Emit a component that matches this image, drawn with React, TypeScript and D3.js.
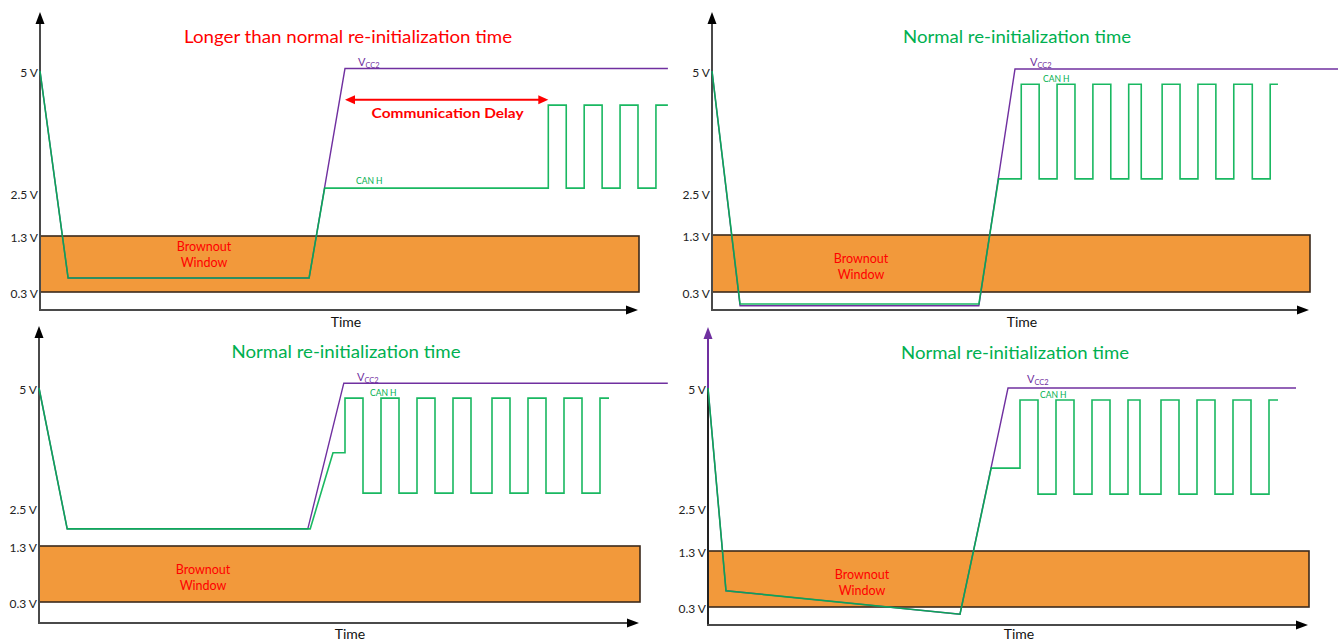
import React from 'react';
import * as d3 from 'd3';

// Schematic voltage breakpoints (axis is not to scale) and tick labels
const voltBreaks = [0, 0.3, 1.3, 2.5, 5];
const tickValues = [5, 2.5, 1.3, 0.3];
const tickLabels = ['5 V', '2.5 V', '1.3 V', '0.3 V'];
const brownoutRange = [0.3, 1.3];

// Panel 1: longer than normal re-initialization
const p1VccT = [0, 4.7, 45.0, 51.0, 105.0];
const p1VccV = [5.0, 0.55, 0.55, 5.05, 5.05];
const p1CanT = [0, 4.7, 45.0, 47.6, 85.0];
const p1CanV = [5.0, 0.55, 0.55, 2.6, 2.6];
const p1WaveEdges = [85.0, 88.0, 91.0, 94.0, 97.0, 100.0, 103.0, 105.0];
const p1WaveLevels = [2.6, 4.3];
const p1DelayT = [51.0, 85.0];
const p1DelayV = 4.41;

// Panel 2: normal (top right)
const p2VccT = [0, 4.7, 44.7, 50.75, 104.9];
const p2VccV = [5.0, 0.07, 0.07, 5.04, 5.04];
const p2CanT = [0, 4.7, 44.7, 48.0, 51.8];
const p2CanV = [5.0, 0.1, 0.1, 2.79, 2.79];
const p2WaveEdges = [51.8, 54.8, 57.8, 60.8, 63.8, 66.8, 69.8, 71.9, 75.4, 78.4, 81.4, 84.4, 87.4, 90.5, 93.5, 94.8];
const p2WaveLevels = [2.79, 4.73];

// Panel 3: normal (bottom left)
const p3VccT = [0, 4.7, 44.8, 50.8, 104.8];
const p3VccV = [5.0, 1.84, 1.84, 5.1, 5.1];
const p3CanT = [0, 4.7, 45.2, 49.0, 51.0];
const p3CanV = [5.0, 1.84, 1.84, 3.65, 3.65];
const p3WaveEdges = [51.0, 54.0, 57.0, 60.0, 63.0, 66.0, 69.0, 72.0, 75.5, 78.5, 81.5, 84.5, 87.5, 90.5, 93.5, 95.0];
const p3WaveLevels = [2.81, 4.79];

// Panel 4: normal (bottom right)
const p4VccT = [0, 3.0, 42.0, 50.0, 98.0];
const p4VccV = [5.0, 0.59, 0.18, 5.0, 5.0];
const p4CanT = [0, 3.0, 42.0, 47.2, 52.0];
const p4CanV = [5.0, 0.59, 0.18, 3.33, 3.33];
const p4WaveEdges = [52.0, 55.0, 58.0, 61.0, 64.0, 67.0, 70.0, 72.0, 75.5, 78.5, 81.5, 84.5, 87.5, 90.5, 93.5, 95.0];
const p4WaveLevels = [2.79, 4.75];

const titleLong = 'Longer than normal re-initialization time';
const titleNormal = 'Normal re-initialization time';

const RED = '#ff0000';
const GREEN = '#00b050';
const PURPLE = '#7030a0';
const ORANGE = '#f2993b';
const AXIS = '#4a4a4a';
const FONT = 'Lato, "Open Sans", sans-serif';

type Panel = {
  x0: number; x1: number; yRange: number[]; top: number;
  vccT: number[]; vccV: number[]; canT: number[]; canV: number[];
  waveEdges: number[]; waveLevels: number[];
  title: string; titleColor: string; titleX: number; titleY: number; titleW: number;
  vccLabelX: number; vccLabelY: number; canLabelX: number; canLabelY: number;
  boX: number; boY: number; timeX: number; timeY: number;
  purpleTop?: boolean; delay?: boolean;
};

const panels: Panel[] = [
  {
    x0: 40, x1: 638, yRange: [310, 292, 236, 193, 71], top: 12,
    vccT: p1VccT, vccV: p1VccV, canT: p1CanT, canV: p1CanV,
    waveEdges: p1WaveEdges, waveLevels: p1WaveLevels,
    title: titleLong, titleColor: RED, titleX: 348, titleY: 43, titleW: 328,
    vccLabelX: 358, vccLabelY: 66, canLabelX: 356, canLabelY: 184,
    boX: 204, boY: 247, timeX: 346, timeY: 327, delay: true,
  },
  {
    x0: 712, x1: 1309, yRange: [310, 292, 235, 193, 71], top: 12,
    vccT: p2VccT, vccV: p2VccV, canT: p2CanT, canV: p2CanV,
    waveEdges: p2WaveEdges, waveLevels: p2WaveLevels,
    title: titleNormal, titleColor: GREEN, titleX: 1017, titleY: 43, titleW: 228,
    vccLabelX: 1030, vccLabelY: 66, canLabelX: 1043, canLabelY: 82,
    boX: 861, boY: 259, timeX: 1022, timeY: 327,
  },
  {
    x0: 39, x1: 639, yRange: [623, 602, 546, 508, 388], top: 326,
    vccT: p3VccT, vccV: p3VccV, canT: p3CanT, canV: p3CanV,
    waveEdges: p3WaveEdges, waveLevels: p3WaveLevels,
    title: titleNormal, titleColor: GREEN, titleX: 346, titleY: 358, titleW: 229,
    vccLabelX: 357, vccLabelY: 381, canLabelX: 370, canLabelY: 396,
    boX: 203, boY: 570, timeX: 350, timeY: 639,
  },
  {
    x0: 708, x1: 1308, yRange: [625, 607, 551, 508, 388], top: 327,
    vccT: p4VccT, vccV: p4VccV, canT: p4CanT, canV: p4CanV,
    waveEdges: p4WaveEdges, waveLevels: p4WaveLevels,
    title: titleNormal, titleColor: GREEN, titleX: 1015, titleY: 359, titleW: 228,
    vccLabelX: 1027, vccLabelY: 383, canLabelX: 1040, canLabelY: 398,
    boX: 862, boY: 575, timeX: 1019, timeY: 639, purpleTop: true,
  },
];

// Square wave after the CAN H ramp: first edge goes to the high level, then toggles
function wavePoints(edges: number[], levels: number[]): [number, number][] {
  const pts: [number, number][] = [];
  let lvl = 0;
  for (let i = 0; i < edges.length - 1; i++) {
    lvl = 1 - lvl;
    pts.push([edges[i], levels[lvl]]);
    pts.push([edges[i + 1], levels[lvl]]);
  }
  return pts;
}

function PanelView({ p }: { p: Panel }) {
  const x = d3.scaleLinear().domain([0, 100]).range([p.x0, p.x1]);
  const y = d3.scaleLinear().domain(voltBreaks).range(p.yRange);
  const line = d3.line<[number, number]>().x((d) => x(d[0])).y((d) => y(d[1]));
  const vcc = d3.zip(p.vccT, p.vccV) as [number, number][];
  const can = [
    ...(d3.zip(p.canT, p.canV) as [number, number][]),
    ...wavePoints(p.waveEdges, p.waveLevels),
  ];
  const y0 = y(0);
  const ax = x(0);
  const xEnd = x(100);
  const bTop = y(brownoutRange[1]);
  const bBot = y(brownoutRange[0]);
  const y5 = y(5);

  return (
    <g>
      {/* brownout window */}
      <rect x={ax} y={bTop} width={xEnd - ax + 1} height={bBot - bTop}
        fill={ORANGE} stroke="#3b2a1c" strokeWidth={1.6} />
      <text x={p.boX} y={p.boY + 4} textAnchor="middle" fill={RED} fontSize={12.5} fontFamily={FONT}>Brownout</text>
      <text x={p.boX} y={p.boY + 20} textAnchor="middle" fill={RED} fontSize={12.5} fontFamily={FONT}>Window</text>

      {/* axes */}
      {p.purpleTop ? (
        <g>
          <line x1={ax} x2={ax} y1={y0} y2={y5} stroke="#222" strokeWidth={2} />
          <line x1={ax} x2={ax} y1={y5} y2={p.top + 10} stroke={PURPLE} strokeWidth={2} />
          <polygon points={`${ax},${p.top} ${ax - 4.5},${p.top + 12} ${ax + 4.5},${p.top + 12}`} fill={PURPLE} />
        </g>
      ) : (
        <g>
          <line x1={ax} x2={ax} y1={y0} y2={p.top + 10} stroke={AXIS} strokeWidth={2} />
          <polygon points={`${ax},${p.top} ${ax - 4.5},${p.top + 12} ${ax + 4.5},${p.top + 12}`} fill="#000" />
        </g>
      )}
      <line x1={ax - 1} x2={xEnd - 10} y1={y0} y2={y0} stroke={AXIS} strokeWidth={2} />
      <polygon points={`${xEnd},${y0} ${xEnd - 12},${y0 - 4.5} ${xEnd - 12},${y0 + 4.5}`} fill="#000" />

      {tickValues.map((v, i) => (
        <text key={i} x={ax - 2} y={y(v) + 6} textAnchor="end" fontSize={12} fill="#222" fontFamily={FONT}>
          {tickLabels[i]}
        </text>
      ))}
      <text x={p.timeX} y={p.timeY} textAnchor="middle" fontSize={14} fill="#111" fontFamily={FONT}>Time</text>

      {/* title */}
      <text x={p.titleX} y={p.titleY} textAnchor="middle" fontSize={18} fill={p.titleColor} fontFamily={FONT}
        textLength={p.titleW} lengthAdjust="spacingAndGlyphs">{p.title}</text>

      {/* signals */}
      <path d={line(vcc) || ''} fill="none" stroke={PURPLE} strokeWidth={1.4} />
      <path d={line(can) || ''} fill="none" stroke={GREEN} strokeWidth={1.6} strokeOpacity={0.9} />

      <text x={p.vccLabelX} y={p.vccLabelY} fill={PURPLE} fontSize={11} fontFamily={FONT}>
        V<tspan fontSize={7.5} dy={2}>CC2</tspan>
      </text>
      <text x={p.canLabelX} y={p.canLabelY} fill={GREEN} fontSize={8.5} fontFamily={FONT}>CAN H</text>

      {p.delay && (
        <g>
          <line x1={x(p1DelayT[0]) + 8} x2={x(p1DelayT[1]) - 8} y1={y(p1DelayV)} y2={y(p1DelayV)} stroke={RED} strokeWidth={2} />
          <polygon points={`${x(p1DelayT[0])},${y(p1DelayV)} ${x(p1DelayT[0]) + 10},${y(p1DelayV) - 4.5} ${x(p1DelayT[0]) + 10},${y(p1DelayV) + 4.5}`} fill={RED} />
          <polygon points={`${x(p1DelayT[1])},${y(p1DelayV)} ${x(p1DelayT[1]) - 10},${y(p1DelayV) - 4.5} ${x(p1DelayT[1]) - 10},${y(p1DelayV) + 4.5}`} fill={RED} />
          <text x={(x(p1DelayT[0]) + x(p1DelayT[1])) / 2 + 1} y={y(p1DelayV) + 18} textAnchor="middle"
            fontSize={14} fontWeight="bold" fill={RED} fontFamily={FONT}
            textLength={152} lengthAdjust="spacingAndGlyphs">Communication Delay</text>
        </g>
      )}
    </g>
  );
}

export default function App() {
  return (
    <svg width={1338} height={643} viewBox="0 0 1338 643"
      style={{ position: 'absolute', left: 0, top: 0, display: 'block', background: '#fff' }}>
      <rect x={0} y={0} width={1338} height={643} fill="#fff" />
      {panels.map((p, i) => <PanelView key={i} p={p} />)}
    </svg>
  );
}
